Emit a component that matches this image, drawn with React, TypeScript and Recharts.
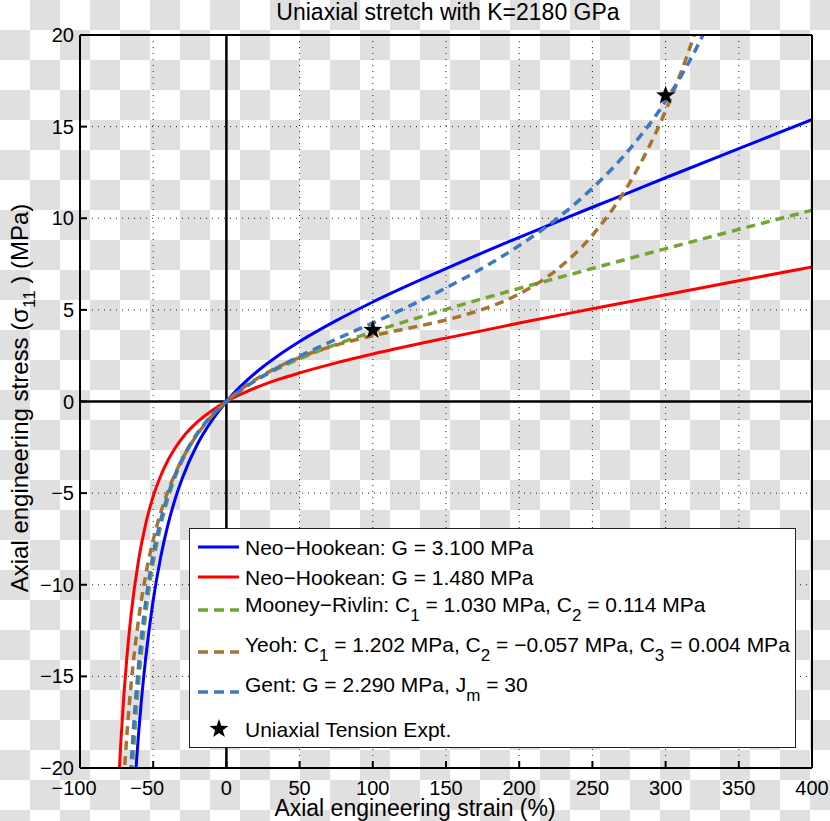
import { CartesianGrid, ComposedChart, Line, ReferenceLine, Scatter, XAxis, YAxis } from "recharts"

const strainTicks = [-100, -50, 0, 50, 100, 150, 200, 250, 300, 350, 400]
const stressTicks = [-20, -15, -10, -5, 0, 5, 10, 15, 20]

// Neo-Hookean, G = 3.100 MPa
const nhStiffStrain = [-63, -62, -60, -58, -55, -50, -45, -40, -35, -30, -20, -10, 0, 10, 20, 35, 50, 75, 100, 150, 200, 225, 250, 275, 300, 350, 400]
const nhStiffStress = [-21.5, -20.29, -18.14, -16.27, -13.91, -10.85, -8.54, -6.75, -5.32, -4.16, -2.36, -1.04, 0, 0.85, 1.57, 2.48, 3.27, 4.41, 5.43, 7.25, 8.96, 9.78, 10.6, 11.4, 12.21, 13.8, 15.38]

// Neo-Hookean, G = 1.480 MPa
const nhSoftStrain = [-74, -73, -72, -70, -68, -65, -60, -55, -50, -45, -40, -35, -30, -20, -10, 0, 10, 20, 35, 50, 75, 100, 150, 200, 250, 300, 350, 400]
const nhSoftStress = [-21.51, -19.9, -18.46, -16.0, -13.98, -11.56, -8.66, -6.64, -5.18, -4.08, -3.22, -2.54, -1.98, -1.13, -0.5, 0, 0.4, 0.75, 1.19, 1.56, 2.11, 2.59, 3.46, 4.28, 5.06, 5.83, 6.59, 7.34]

// Mooney-Rivlin
const mrStrain = [-65, -64, -62, -60, -55, -50, -45, -40, -35, -30, -20, -10, 0, 10, 20, 35, 50, 75, 100, 150, 200, 250, 300, 350, 400]
const mrStress = [-21.18, -19.81, -17.41, -15.39, -11.52, -8.81, -6.82, -5.31, -4.14, -3.2, -1.79, -0.77, 0, 0.62, 1.14, 1.79, 2.33, 3.12, 3.8, 5.03, 6.17, 7.26, 8.34, 9.39, 10.44]

// Yeoh
const yeohStrain = [-70, -69, -68, -65, -60, -55, -50, -45, -40, -35, -30, -20, -10, 0, 10, 20, 35, 50, 75, 100, 125, 150, 175, 200, 225, 250, 275, 300, 310, 320, 330]
const yeohStress = [-20.66, -19.38, -18.23, -15.35, -11.89, -9.42, -7.56, -6.1, -4.92, -3.94, -3.12, -1.81, -0.8, 0, 0.66, 1.2, 1.87, 2.41, 3.08, 3.59, 4.01, 4.45, 5.03, 5.87, 7.15, 9.07, 11.88, 15.86, 17.85, 20.1, 22.65]

// Gent
const gentStrain = [-66, -65, -62, -60, -55, -50, -45, -40, -35, -30, -20, -10, 0, 10, 20, 35, 50, 75, 100, 125, 150, 175, 200, 225, 250, 275, 300, 310, 320, 330]
const gentStress = [-21.15, -19.76, -16.3, -14.44, -10.87, -8.36, -6.52, -5.11, -4.0, -3.11, -1.75, -0.77, 0, 0.63, 1.16, 1.85, 2.47, 3.4, 4.29, 5.21, 6.2, 7.28, 8.51, 9.93, 11.64, 13.73, 16.39, 17.68, 19.12, 20.77]

// experiment points
const exptStrain = [100, 300]
const exptStress = [3.9, 16.7]

const zip = (xs: number[], ys: number[]) => xs.map((x, i) => ({ x, y: ys[i] }))

type Seg = { t: string; sub?: boolean }

const series = [
  { key: "nh1", color: "#0000ff", dashed: false, data: zip(nhStiffStrain, nhStiffStress), label: [{ t: "Neo\u2212Hookean: G = 3.100 MPa" }] as Seg[] },
  { key: "nh2", color: "#ff0000", dashed: false, data: zip(nhSoftStrain, nhSoftStress), label: [{ t: "Neo\u2212Hookean: G = 1.480 MPa" }] as Seg[] },
  {
    key: "mr", color: "#73a532", dashed: true, data: zip(mrStrain, mrStress),
    label: [{ t: "Mooney\u2212Rivlin: C" }, { t: "1", sub: true }, { t: " = 1.030 MPa, C" }, { t: "2", sub: true }, { t: " = 0.114 MPa" }] as Seg[],
  },
  {
    key: "yeoh", color: "#a7742f", dashed: true, data: zip(yeohStrain, yeohStress),
    label: [{ t: "Yeoh: C" }, { t: "1", sub: true }, { t: " = 1.202 MPa, C" }, { t: "2", sub: true }, { t: " = \u22120.057 MPa, C" }, { t: "3", sub: true }, { t: " = 0.004 MPa" }] as Seg[],
  },
  {
    key: "gent", color: "#3c78c4", dashed: true, data: zip(gentStrain, gentStress),
    label: [{ t: "Gent: G = 2.290 MPa, J" }, { t: "m", sub: true }, { t: " = 30" }] as Seg[],
  },
]

const expt = zip(exptStrain, exptStress)

// legend row placement: sample line y, text baseline
const legendRows = [
  { ly: 547, ty: 555 },
  { ly: 577, ty: 585 },
  { ly: 610, ty: 612 },
  { ly: 652, ty: 652 },
  { ly: 692, ty: 692 },
]

const starPts = (cx: number, cy: number, R: number, r: number) =>
  Array.from({ length: 10 }, (_, i) => {
    const a = ((-90 + i * 36) * Math.PI) / 180
    const rad = i % 2 === 0 ? R : r
    return `${cx + rad * Math.cos(a)},${cy + rad * Math.sin(a)}`
  }).join(" ")

function StarShape(props: any) {
  const { cx, cy } = props
  return <polygon points={starPts(cx, cy, 10, 4)} fill="#000" />
}

function XTick(props: any) {
  const { x, y, payload } = props
  const v = payload.value
  return (
    <text x={x} y={y} dx={v < 0 ? -6 : 0} dy="0.71em" textAnchor="middle" fontSize={20} fill="#000">
      {v < 0 ? `\u2212${-v}` : `${v}`}
    </text>
  )
}

function YTick(props: any) {
  const { x, y, payload } = props
  const v = payload.value
  return (
    <text x={x} y={y} dy="0.355em" textAnchor="end" fontSize={20} fill="#000">
      {v < 0 ? `\u2212${-v}` : `${v}`}
    </text>
  )
}

function RichText({ segs, subSize, shift }: { segs: Seg[]; subSize: number; shift: number }) {
  return (
    <>
      {segs.map((s, i) => {
        const prevSub = i > 0 && segs[i - 1].sub
        const dy = s.sub ? shift : prevSub ? -shift : 0
        return (
          <tspan key={i} dy={dy} fontSize={s.sub ? subSize : undefined}>
            {s.t}
          </tspan>
        )
      })}
    </>
  )
}

const axisLine = { stroke: "#000", strokeWidth: 2 }
const tickLine = { stroke: "#000", strokeWidth: 2 }

export default function App() {
  return (
    <div
      style={{
        position: "absolute",
        left: 0,
        top: 0,
        width: 830,
        height: 821,
        background: "repeating-conic-gradient(#e0e0e0 0 25%, #ffffff 0 50%) 0 0 / 60px 60px",
        fontFamily: '"Liberation Sans", Arial, Helvetica, sans-serif',
      }}
    >
      <ComposedChart width={830} height={821} margin={{ top: 34, right: 17, bottom: 23, left: 0 }}>
        <CartesianGrid xAxisId="b" yAxisId="l" stroke="#222" strokeDasharray="1 5" />
        <XAxis
          xAxisId="b"
          type="number"
          dataKey="x"
          domain={[-100, 400]}
          ticks={strainTicks}
          interval={0}
          allowDataOverflow
          height={30}
          stroke="#000"
          axisLine={axisLine}
          tickLine={tickLine}
          tickSize={-7}
          tickMargin={20}
          tick={<XTick />}
        />
        <XAxis
          xAxisId="t"
          orientation="top"
          type="number"
          domain={[-100, 400]}
          ticks={strainTicks}
          interval={0}
          allowDataOverflow
          height={1}
          stroke="#000"
          axisLine={axisLine}
          tickLine={tickLine}
          tickSize={-7}
          tick={false}
        />
        <YAxis
          yAxisId="l"
          type="number"
          dataKey="y"
          domain={[-20, 20]}
          ticks={stressTicks}
          interval={0}
          allowDataOverflow
          width={80}
          stroke="#000"
          axisLine={axisLine}
          tickLine={tickLine}
          tickSize={-7}
          tickMargin={13}
          tick={<YTick />}
        />
        <YAxis
          yAxisId="r"
          orientation="right"
          type="number"
          domain={[-20, 20]}
          ticks={stressTicks}
          interval={0}
          allowDataOverflow
          width={1}
          stroke="#000"
          axisLine={axisLine}
          tickLine={tickLine}
          tickSize={-7}
          tick={false}
        />
        <ReferenceLine xAxisId="b" yAxisId="l" x={0} stroke="#000" strokeWidth={2.5} />
        <ReferenceLine xAxisId="b" yAxisId="l" y={0} stroke="#000" strokeWidth={2.5} />
        {series.map((s) => (
          <Line
            key={s.key}
            xAxisId="b"
            yAxisId="l"
            data={s.data}
            dataKey="y"
            type="monotone"
            stroke={s.color}
            strokeWidth={s.dashed ? 3.5 : 3}
            strokeDasharray={s.dashed ? "9 6" : undefined}
            dot={false}
            activeDot={false}
            isAnimationActive={false}
          />
        ))}
        <Scatter xAxisId="b" yAxisId="l" data={expt} dataKey="y" fill="#000" shape={<StarShape />} isAnimationActive={false} />
      </ComposedChart>
      <svg width={830} height={821} style={{ position: "absolute", left: 0, top: 0, pointerEvents: "none" }}>
        <text x={448} y={20} textAnchor="middle" fontSize={23} fill="#000">
          Uniaxial stretch with K=2180 GPa
        </text>
        <text x={415} y={816} textAnchor="middle" fontSize={23} fill="#000">
          Axial engineering strain (%)
        </text>
        <text x={28} y={398} textAnchor="middle" fontSize={24} fill="#000" transform="rotate(-90 28 398)">
          <RichText
            segs={[{ t: "Axial engineering stress (\u03c3" }, { t: "11", sub: true }, { t: " ) (MPa)" }]}
            subSize={17}
            shift={7}
          />
        </text>
        <rect x={189.5} y={528.5} width={606} height={219} fill="#fff" stroke="#222" strokeWidth={1} />
        {series.map((s, i) => (
          <g key={s.key}>
            <line
              x1={198}
              x2={239}
              y1={legendRows[i].ly}
              y2={legendRows[i].ly}
              stroke={s.color}
              strokeWidth={s.dashed ? 3.5 : 3}
              strokeDasharray={s.dashed ? "10 6" : undefined}
            />
            <text x={245} y={legendRows[i].ty} fontSize={21} fill="#000">
              <RichText segs={s.label} subSize={17} shift={9} />
            </text>
          </g>
        ))}
        <polygon points={starPts(219, 729, 10, 4)} fill="#000" />
        <text x={245} y={737} fontSize={21} fill="#000">
          Uniaxial Tension Expt.
        </text>
      </svg>
    </div>
  )
}
